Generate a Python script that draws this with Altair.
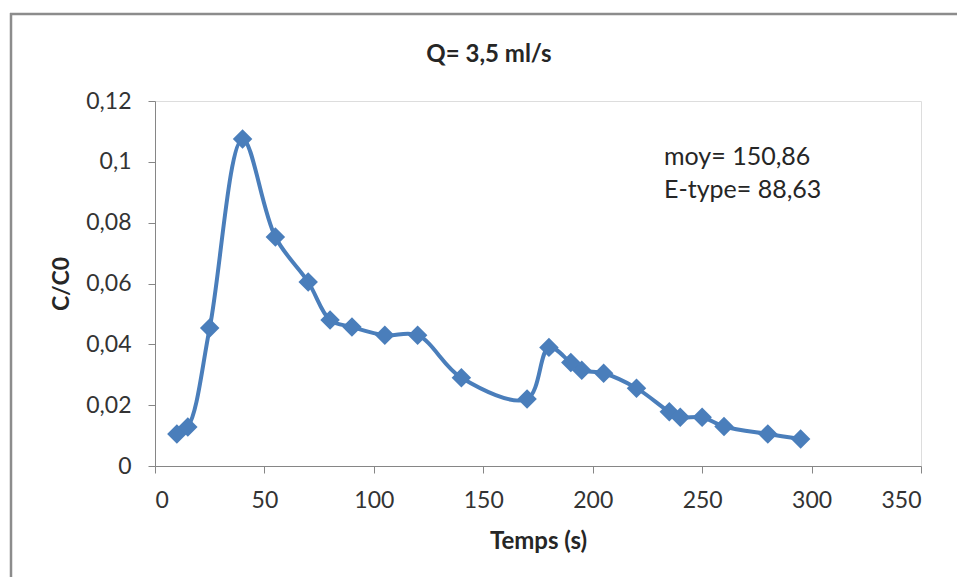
import altair as alt
import pandas as pd

temps = [10, 15, 25, 40, 55, 70, 80, 90, 105, 120, 140, 170, 180, 190, 195, 205,
         220, 235, 240, 250, 260, 280, 295]
c_c0 = [0.0105, 0.0128, 0.0454, 0.1075, 0.0753, 0.0605, 0.048, 0.0457, 0.043, 0.043,
        0.029, 0.022, 0.039, 0.034, 0.0315, 0.0305, 0.0256, 0.0178, 0.016, 0.016,
        0.013, 0.0105, 0.0089]
x_ticks = [0, 50, 100, 150, 200, 250, 300, 350]
y_ticks = [0, 0.02, 0.04, 0.06, 0.08, 0.1, 0.12]
y_labels = ["0", "0,02", "0,04", "0,06", "0,08", "0,1", "0,12"]
annot = ["moy= 150,86", "E-type= 88,63"]
title_text = "Q= 3,5 ml/s"

df = pd.DataFrame({"t": temps, "c": c_c0})

FONT = "Lato"
BLUE = "#4a7ebb"
GRAY = "#868686"
TXT = "#262626"

label_arr = "[" + ",".join("'%s'" % s for s in y_labels) + "]"

base = alt.Chart(df)

line = base.mark_line(color=BLUE, strokeWidth=4, interpolate="catmull-rom").encode(
    x=alt.X("t:Q", scale=alt.Scale(domain=[0, 350], nice=False),
            axis=alt.Axis(values=x_ticks, title="Temps (s)", grid=False,
                          domainColor=GRAY, tickColor=GRAY, tickSize=7,
                          labelFont=FONT, labelFontSize=23, labelColor="#333333",
                          labelPadding=16, titleFont=FONT, titleFontSize=24,
                          titleFontWeight="bold", titleColor=TXT,
                          titlePadding=17)),
    y=alt.Y("c:Q", scale=alt.Scale(domain=[0, 0.12], nice=False),
            axis=alt.Axis(values=y_ticks, title="C/C0", grid=False,
                          labelExpr=label_arr + "[round(datum.value*50)]",
                          domainColor=GRAY, tickColor=GRAY, tickSize=7,
                          labelFont=FONT, labelFontSize=23, labelColor="#333333",
                          labelPadding=17, titleFont=FONT, titleFontSize=23,
                          titleFontWeight="bold", titleColor=TXT,
                          titlePadding=12)),
)

points = base.mark_point(shape="diamond", filled=True, color=BLUE, size=380, opacity=1).encode(
    x="t:Q", y="c:Q"
)

one = pd.DataFrame({"a": [0]})

ann1 = alt.Chart(one).mark_text(align="left", baseline="middle", font=FONT,
                                fontSize=25, color=TXT).encode(
    x=alt.value(509), y=alt.value(56), text=alt.value(annot[0]))
ann2 = alt.Chart(one).mark_text(align="left", baseline="middle", font=FONT,
                                fontSize=25, color=TXT).encode(
    x=alt.value(509), y=alt.value(89), text=alt.value(annot[1]))

title = alt.Chart(one).mark_text(align="center", baseline="middle", font=FONT,
                                 fontSize=24, fontWeight="bold", color=TXT).encode(
    x=alt.value(334), y=alt.value(-46), text=alt.value(title_text))

frame_top = alt.Chart(one).mark_rule(color="#8c8c8c", strokeWidth=2.5).encode(
    x=alt.value(-145), x2=alt.value(900), y=alt.value(-87)
)
frame_left = alt.Chart(one).mark_rule(color="#8c8c8c", strokeWidth=2.5).encode(
    x=alt.value(-144), y=alt.value(-88), y2=alt.value(520)
)

chart = alt.layer(frame_top, frame_left, line, points, ann1, ann2, title).properties(
    width=766, height=365,
    autosize=alt.AutoSizeParams(type="none"),
    padding={"left": 147, "top": 93, "right": 36, "bottom": 111},
).configure_view(stroke=None).configure(background="white")

chart.save("out.html", embed_options={"renderer": "svg", "actions": False})
